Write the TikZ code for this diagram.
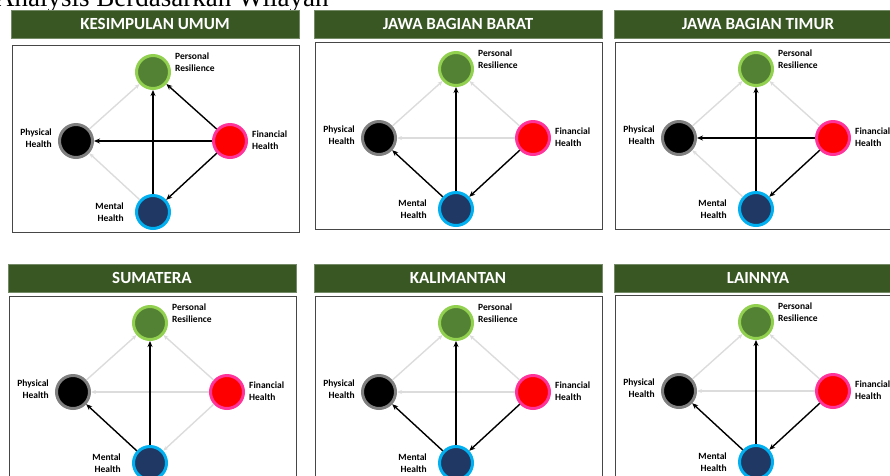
\documentclass[tikz,border=0pt]{standalone}
\usepackage{fontspec}
\setmainfont{Carlito}
\newfontfamily\headfont{Liberation Serif}
\usetikzlibrary{arrows.meta, positioning}
\definecolor{bargreen}{RGB}{56, 87, 35}
\definecolor{prfill}{RGB}{84, 130, 53}
\definecolor{prline}{RGB}{146, 208, 80}
\definecolor{phline}{RGB}{127, 127, 127}
\definecolor{filine}{RGB}{255, 51, 153}
\definecolor{mhfill}{RGB}{32, 56, 100}
\definecolor{mhline}{RGB}{0, 176, 240}
\definecolor{faint}{RGB}{220, 220, 220}
\definecolor{frame}{RGB}{70, 70, 70}

\begin{document}
\begin{tikzpicture}[
    x=1pt, y=-1pt,
    bar/.style={fill=bargreen, draw=bargreen!70!white, minimum width=288pt,
                minimum height=28pt, inner sep=0pt, text=white,
                font=\fontsize{17}{20}\selectfont\bfseries},
    panelbox/.style={draw=frame, line width=1pt},
    factor/.style={circle, minimum size=33pt, inner sep=0pt, line width=3pt},
    lbl/.style={inner sep=0pt, font=\fontsize{9.5}{12}\selectfont\bfseries},
    sig/.style={-{Stealth[length=6pt, width=5pt]}, line width=1.4pt, black},
    nsig/.style={-{Stealth[length=5pt, width=4pt]}, line width=1.4pt, faint},
  ]
  \useasboundingbox (0,0) rectangle (890,475);
  \clip (0,0) rectangle (890,475);

  \node[font=\headfont\fontsize{27}{30}\selectfont, anchor=base west, inner sep=0pt]
    (head) at (-5,6) {Analysis Berdasarkan Wilayah};

  \foreach \i/\bx/\by/\ty/\ttl/\ea/\eb/\ec/\ed/\ee/\ef in {
      1/12/45/10/KESIMPULAN UMUM/nsig/sig/sig/nsig/sig/sig,
      2/315/42/10/JAWA BAGIAN BARAT/nsig/nsig/nsig/sig/sig/sig,
      3/615/42/10/JAWA BAGIAN TIMUR/nsig/nsig/sig/nsig/sig/sig,
      4/9/296/264/SUMATERA/nsig/nsig/nsig/sig/sig/nsig,
      5/315/296/264/KALIMANTAN/nsig/nsig/nsig/sig/sig/sig,
      6/615/295/264/LAINNYA/nsig/nsig/nsig/sig/sig/sig} {
    \node[bar] (t\i) at (\bx+143,\ty+14) {\ttl};
    \draw[panelbox] (\bx,\by) rectangle ++(287,187);

    \node[factor, fill=prfill, draw=prline] (pr\i) at (\bx+141,\by+27) {};
    \node[factor, fill=black, draw=phline] (ph\i) at (\bx+64,\by+96) {};
    \node[factor, fill=red, draw=filine] (fi\i) at (\bx+218,\by+96) {};
    \node[factor, fill=mhfill, draw=mhline] (mh\i) at (\bx+141,\by+167) {};

    \node[lbl, align=left, anchor=west, xshift=4pt, yshift=10pt] (prl\i)
      at (pr\i.east) {Personal\\Resilience};
    \node[lbl, align=right, anchor=east, xshift=-6pt, yshift=3pt] (phl\i)
      at (ph\i.west) {Physical\\Health};
    \node[lbl, align=left, anchor=west, xshift=4pt, yshift=1pt] (fil\i)
      at (fi\i.east) {Financial\\Health};
    \node[lbl, align=right, anchor=east, xshift=-11pt] (mhl\i)
      at (mh\i.west) {Mental\\Health};

    \draw[\ea] (ph\i) -- (pr\i);
    \draw[\eb] (fi\i) -- (pr\i);
    \draw[\ec] (fi\i) -- (ph\i);
    \draw[\ed] (mh\i) -- (ph\i);
    \draw[\ee] (mh\i) -- (pr\i);
    \draw[\ef] (fi\i) -- (mh\i);
  }
\end{tikzpicture}
\end{document}
